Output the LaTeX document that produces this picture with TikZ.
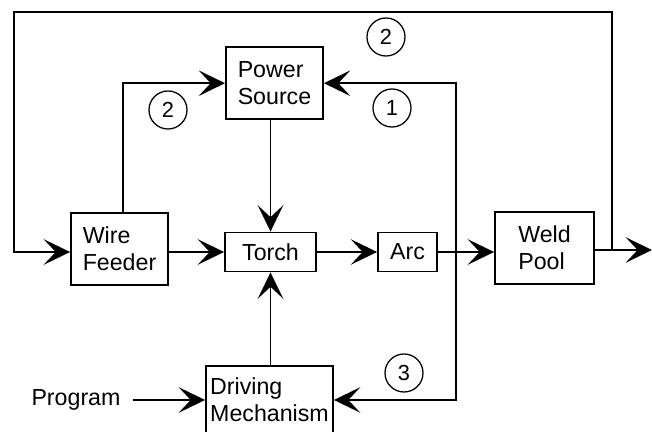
\documentclass[tikz,border=0pt]{standalone}
\usepackage{fontspec}
\setmainfont{Liberation Sans}
\usetikzlibrary{arrows.meta}
\tikzset{
  block/.style={draw=black, line width=1.3pt, align=left, inner sep=2pt, font=\fontsize{16.5}{19.5}\selectfont},
  num/.style={circle, draw=black, line width=0.9pt, inner sep=0pt, minimum size=0.95cm, font=\fontsize{15.5}{15.5}\selectfont},
  flow/.style={line width=1.3pt}
}

\begin{document}
\begin{tikzpicture}[>={Stealth[length=0.66cm,width=0.64cm,inset=0.3cm]}]
\useasboundingbox (0,0) rectangle (16.3,10.8);

%blocks
\node[block, minimum width=2.425cm, minimum height=1.8cm]   (PS) at (6.8625,8.72)  {Power\\Source};
\node[block, minimum width=2.425cm, minimum height=1.8cm]   (WF) at (2.9875,4.575) {Wire\\Feeder};
\node[block, minimum width=2.275cm, minimum height=0.975cm] (T)  at (6.7625,4.5)   {Torch};
\node[block, minimum width=1.475cm, minimum height=0.975cm] (A)  at (10.1875,4.5)  {Arc};
\node[block, minimum width=2.475cm, minimum height=1.8cm]   (WP) at (13.6125,4.6)  {Weld\\Pool};
\node[block, minimum width=3.175cm, minimum height=1.7cm]   (DM) at (6.7375,0.8)   {Driving\\Mechanism};
\node[font=\fontsize{16.5}{19.5}\selectfont] (P) at (1.9,0.8) {Program};

%corners of the loops
\coordinate (fb)  at (11.4,4.5);
\coordinate (tl)  at (0.35,10.49);
\coordinate (tr)  at (15.3,10.49);
\coordinate (out) at (16.3,4.55);

%main row
\draw [->, flow] (T.west -| WF.east) -- (T.west);           %WF--T
\draw [->, flow] (T) -- (A);                                %T--A
\draw [->, flow] (A.east) -- (A.east -| WP.west);           %A--WP
\draw [->, flow] (out -| WP.east) -- (out);                 %WP--out

%vertical feeds
\draw [->, flow] (PS.south -| T) -- (T.north);              %PS--T
\draw [->, flow] (DM.north -| T) -- (T.south);              %DM--T
\draw [->, flow] ([xshift=2mm]P.east) -- (DM.west);         %P--DM

%feedback lines
\draw [->, flow] ([xshift=2.5pt]WF.north) |- (PS.west);     %WF--PS
\draw [->, flow] (fb) |- (PS.east);                         %arc--PS
\draw [->, flow] (fb) |- (DM.east);                         %arc--DM
\draw [->, flow] (out -| tr) -- (tr) -- (tl) |- (WF.west |- T); %WP--WF

%loop numbers
\node[num] (n2a) at (4.2,8.05)   {2};
\node[num] (n2b) at (9.65,9.875) {2};
\node[num] (n1)  at (9.8,8.1)    {1};
\node[num] (n3)  at (10.1,1.475) {3};
\end{tikzpicture}
\end{document}
